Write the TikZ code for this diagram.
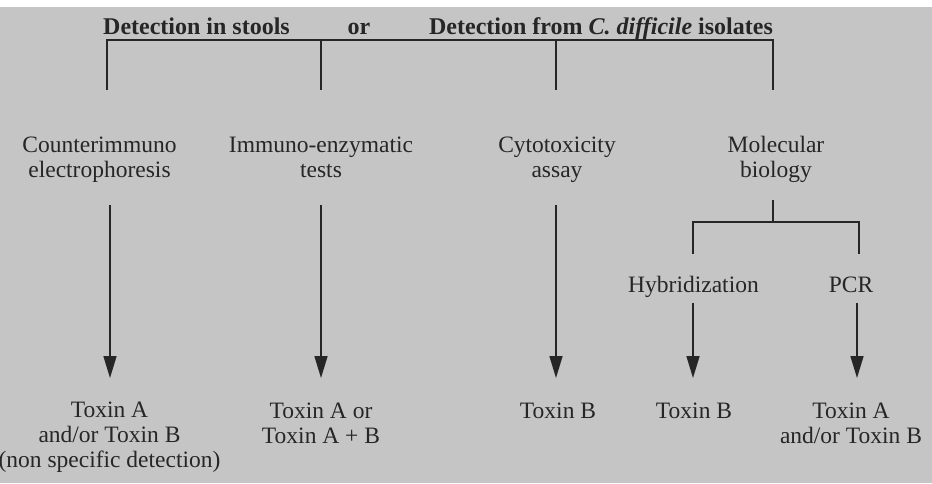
\documentclass[tikz,border=0pt]{standalone}
\usepackage{fontspec}
\setmainfont{Liberation Serif}
\usetikzlibrary{arrows.meta}
\definecolor{scangray}{RGB}{197,197,197}
\definecolor{inkgray}{RGB}{38,38,38}
\tikzset{
  lbl/.style={align=center,anchor=base,inner sep=0pt,text=inkgray,
    font=\fontsize{23.5}{25}\selectfont},
  ttl/.style={lbl,font=\fontsize{24}{25}\selectfont\bfseries},
  brk/.style={draw=inkgray,line width=1.6pt},
  arr/.style={brk,-{Triangle[width=13pt,length=22pt]}}
}
\begin{document}
\begin{tikzpicture}[x=1pt,y=-1pt]
    \useasboundingbox (0,0) rectangle (932,483);
    \fill[white] (0,0) rectangle (932,483);
    \fill[scangray] (0,7) rectangle (932,483);
    % heading
    \node[ttl] (stools) at (196.5,34) {Detection in stools};
    \node[ttl] (or) at (359,34) {or};
    \node[ttl] (isolates) at (601,34) {Detection from \textit{C.\ difficile} isolates};
    \coordinate (b1) at (107,90); \coordinate (b2) at (321,90);
    \coordinate (b3) at (556,90); \coordinate (b4) at (773,90);
    \draw[brk] (b1) -- (b1 |- 0,40) -- (b4 |- 0,40) -- (b4);
    \draw[brk] (b2 |- 0,40) -- (b2);
    \draw[brk] (b3 |- 0,40) -- (b3);
    % methods (base = last line)
    \node[lbl] (cie) at (99.5,177) {Counterimmuno\\electrophoresis};
    \node[lbl] (eia) at (321,177) {Immuno-enzymatic\\tests};
    \node[lbl] (cyto) at (557,177) {Cytotoxicity\\assay};
    \node[lbl] (molbio) at (776,177) {Molecular\\biology};
    \node[lbl] (hyb) at (693.5,292) {Hybridization};
    \node[lbl] (pcr) at (851,292) {PCR};
    % results
    \node[lbl] (rcie) at (109.5,467) {Toxin A\\and/or Toxin B\\(non specific detection)};
    \node[lbl] (reia) at (321,443) {Toxin A or\\Toxin A + B};
    \node[lbl] (rcyto) at (558,418) {Toxin B};
    \node[lbl] (rhyb) at (694,418) {Toxin B};
    \node[lbl] (rpcr) at (851,443) {Toxin A\\and/or Toxin B};
    % molecular biology split
    \coordinate (m0) at (773,200); \coordinate (m1) at (693,254); \coordinate (m2) at (859,254);
    \draw[brk] (m0) -- (m0 |- 0,222);
    \draw[brk] (m1) -- (m1 |- 0,222) -- (m2 |- 0,222) -- (m2);
    % arrows
    \coordinate (a1) at (110,205); \coordinate (a2) at (321,205); \coordinate (a3) at (556,205);
    \coordinate (a4) at (693,303); \coordinate (a5) at (857,303);
    \foreach \a in {a1,a2,a3,a4,a5}
      \draw[arr] (\a) -- (\a |- 0,378);
  \end{tikzpicture}
\end{document}
